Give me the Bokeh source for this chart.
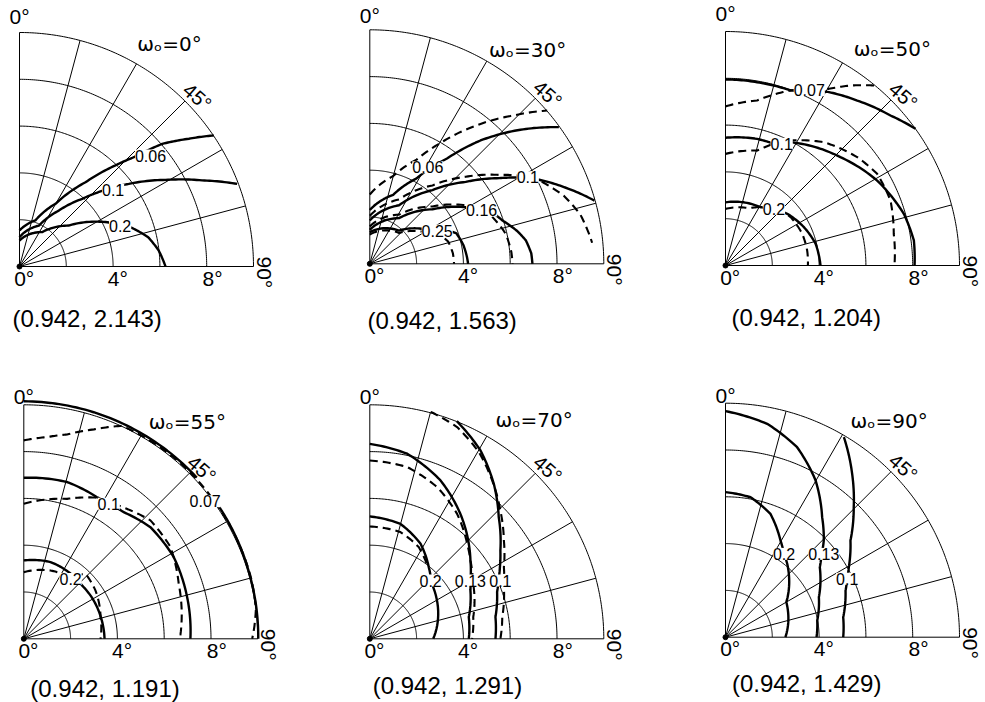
import numpy as np
from bokeh.plotting import figure
from bokeh.layouts import gridplot
from bokeh.models import Range1d
from bokeh.core.properties import value
from bokeh.embed import file_html
from bokeh.resources import INLINE

# ---------------- grid / axis values ----------------
RINGS = [2, 4, 6, 8, 10]
SPOKES = [0, 15, 30, 45, 60, 75, 90]
TICK_LABELS = ["0°", "4°", "8°"]
TICK_POS = [0.2, 4.2, 8.25]
OMEGA = [0, 30, 50, 55, 70, 90]
CAPTIONS = ["(0.942, 2.143)", "(0.942, 1.563)", "(0.942, 1.204)",
            "(0.942, 1.191)", "(0.942, 1.291)", "(0.942, 1.429)"]

# ---------------- curves (x, y in degrees) ----------------
# omega0 = 0
W0_006 = [(0, 1.54), (0.68, 1.97), (1.54, 2.68), (2.82, 3.6), (4.1, 4.32), (4.89, 4.67),
          (6.1, 5.24), (7.24, 5.46), (8.3, 5.6)]
W0_01 = [(0, 1.25), (0.83, 1.75), (1.68, 2.39), (2.68, 2.89), (3.6, 3.25), (4.67, 3.53),
         (6.24, 3.7), (7.8, 3.68), (9.3, 3.53)]
W0_02 = [(0, 1.11), (0.97, 1.47), (2.1, 1.75), (3.67, 1.9), (4.8, 1.65), (5.5, 1.25),
         (5.95, 0.68), (6.24, 0)]
W0_LABELS = [("0.06", 5.6, 4.74), ("0.1", 4.0, 3.28), ("0.2", 4.3, 1.71)]

# omega0 = 30
W30_006D = [(0, 2.96), (1.0, 3.75), (2.0, 4.45), (3.0, 5.15), (4.44, 5.87), (6.15, 6.34), (7.58, 6.55)]
W30_006S = [(0, 2.3), (1.0, 2.95), (2.0, 3.65), (3.3, 4.5), (4.73, 5.27), (6.44, 5.73), (8.08, 5.84)]
W30_01S = [(0, 1.85), (1.25, 2.5), (2.68, 3.15), (4.1, 3.5), (5.53, 3.66), (6.6, 3.68),
           (7.24, 3.59), (8.38, 3.25), (9.6, 2.7)]
W30_01D = [(0, 2.05), (1.25, 2.75), (2.68, 3.35), (4.1, 3.72), (5.53, 3.8), (6.6, 3.75),
           (7.38, 3.49), (8.3, 2.9), (9.0, 2.1), (9.4, 1.2), (9.5, 0.9)]
W30_016S = [(0, 1.45), (1.25, 1.95), (2.68, 2.33), (4.1, 2.42), (5.0, 2.35), (5.67, 1.85),
            (6.3, 1.4), (6.67, 1.0), (6.9, 0.45), (6.95, 0)]
W30_016D = [(0, 1.6), (1.25, 2.1), (2.68, 2.45), (4.1, 2.5), (4.9, 2.3), (5.24, 2.0),
            (5.81, 1.28), (6.05, 0.5), (6.1, 0)]
W30_025S = [(0, 1.35), (1.25, 1.42), (2.2, 1.5), (3.1, 1.5), (3.7, 1.3), (4.0, 0.8), (4.15, 0.3), (4.2, 0)]
W30_025D = [(0, 1.25), (1.25, 1.32), (2.2, 1.38), (2.9, 1.3), (3.35, 0.95), (3.55, 0.45), (3.6, 0)]
W30_LABELS = [("0.06", 2.48, 4.13), ("0.1", 6.75, 3.7), ("0.16", 4.78, 2.28), ("0.25", 2.88, 1.42)]

# omega0 = 50
W50_007S = [(0, 7.95), (1.35, 7.83), (2.78, 7.48), (3.6, 7.48), (4.42, 7.41), (5.63, 7.05),
            (7.05, 6.41), (8.12, 5.84)]
W50_007D = [(0, 6.8), (1.35, 7.05), (2.78, 7.48), (3.6, 7.5), (4.42, 7.55), (5.34, 7.69), (6.41, 7.69)]
W50_01S = [(0, 5.46), (1.35, 5.41), (2.07, 5.2), (2.78, 5.27), (4.91, 4.63), (6.48, 3.63),
           (7.62, 2.21), (8.05, 1.07), (8.08, 0)]
W50_01D = [(0, 4.77), (1.35, 4.91), (2.07, 5.2), (2.78, 5.34), (4.2, 5.27), (5.63, 4.63),
           (6.48, 3.92), (7.05, 2.78), (7.19, 1.35), (7.22, 0)]
W50_02S = [(0, 2.7), (1.07, 2.64), (1.5, 2.49), (2.0, 2.4), (2.64, 2.21), (3.35, 1.64),
           (3.85, 0.93), (4.06, 0)]
W50_02D = [(0, 2.42), (1.0, 2.45), (1.5, 2.49), (2.2, 2.45), (2.78, 2.07), (3.28, 1.35),
           (3.49, 0.64), (3.52, 0)]
W50_LABELS = [("0.07", 3.58, 7.5), ("0.1", 2.4, 5.2), ("0.2", 2.07, 2.42)]

# omega0 = 55
W55_007S_A = [(0, 10.15), (2.62, 9.79), (5.06, 8.76), (7.39, 6.89)]
W55_007S_B = [(8.1, 6.0), (8.72, 5.03), (9.69, 2.6), (10.02, 0)]
W55_007D = [(0, 8.48), (1.0, 8.62), (1.85, 8.73), (3.0, 8.95), (4.2, 9.1), (5.76, 8.23),
            (7.11, 7.11), (8.23, 5.76), (9.11, 4.25), (9.71, 2.6), (9.92, 1.3), (9.85, 0.5), (9.76, 0)]
W55_01S = [(0, 6.88), (1.85, 6.7), (3.13, 6.05), (3.66, 5.77), (4.27, 5.41), (5.41, 4.77),
           (6.41, 3.49), (6.98, 1.78), (7.12, 0)]
W55_01D = [(0, 5.77), (1.85, 5.98), (3.13, 6.03), (4.2, 5.63), (5.41, 5.06), (6.27, 3.92),
           (6.62, 2.35), (6.67, 0)]
W55_02S = [(0, 3.35), (1.14, 3.28), (1.85, 2.9), (2.49, 2.28), (2.95, 1.7), (3.3, 0.9), (3.45, 0)]
W55_02D = [(0, 2.85), (1.14, 2.92), (1.7, 2.75), (2.2, 2.7), (2.64, 2.78), (3.06, 2.07),
           (3.28, 0.93), (3.28, 0)]
W55_LABELS = [("0.07", 7.75, 5.88), ("0.1", 3.63, 5.77), ("0.2", 2.0, 2.56)]

# omega0 = 70
W70_01S = [(3.72, 9.3), (4.73, 8.05), (5.3, 6.62), (5.51, 5.2), (5.58, 3.77), (5.56, 3.06),
           (5.5, 2.5), (5.44, 2.0), (5.37, 0.93), (5.37, 0)]
W70_01D = [(2.6, 9.7), (3.73, 9.05), (4.66, 7.98), (5.23, 6.77), (5.58, 5.48), (5.73, 4.2),
           (5.73, 3.06), (5.73, 2.21), (5.66, 0.93), (5.58, 0)]
W70_013S = [(0, 8.33), (1.6, 7.91), (3.02, 6.77), (3.87, 5.34), (4.23, 4.06), (4.3, 3.35),
            (4.3, 2.49), (4.3, 2.07), (4.23, 0.93), (4.23, 0)]
W70_013D = [(0, 7.62), (1.6, 7.34), (2.88, 6.48), (3.73, 5.34), (4.16, 4.06), (4.3, 3.35),
            (4.4, 2.5), (4.44, 2.21), (4.42, 0.93), (4.37, 0)]
W70_02S = [(0, 5.23), (1.31, 4.91), (2.17, 4.06), (2.52, 3.06), (2.62, 2.49), (2.71, 2.21), (2.71, 0)]
W70_02D = [(0, 4.8), (1.31, 4.56), (2.09, 3.92), (2.48, 3.06)]
W70_LABELS = [("0.2", 2.6, 2.49), ("0.13", 4.3, 2.49), ("0.1", 5.58, 2.49)]

# omega0 = 90
W90_013 = [(0, 9.66), (1.78, 9.12), (3.06, 8.12), (3.85, 6.7), (4.13, 5.13), (4.2, 4.13),
           (4.1, 3.5), (4.03, 2.99), (3.99, 1.71), (3.92, 0.71), (3.89, 0)]
W90_01 = [(5.06, 8.55), (5.41, 7.0), (5.48, 5.56), (5.34, 4.13), (5.27, 2.99), (5.2, 2.5),
          (5.13, 1.99), (5.03, 0.85), (5.03, 0)]
W90_02 = [(0, 6.2), (1.07, 5.98), (1.92, 5.27), (2.35, 4.13), (2.5, 3.56), (2.64, 3.13),
          (2.6, 1.5), (2.56, 0)]
W90_LABELS = [("0.2", 2.5, 3.56), ("0.13", 4.2, 3.56), ("0.1", 5.2, 2.5)]

PANEL_CURVES = [
    [("s", W0_006), ("s", W0_01), ("s", W0_02)],
    [("d", W30_006D), ("s", W30_006S), ("s", W30_01S), ("d", W30_01D), ("s", W30_016S),
     ("d", W30_016D), ("s", W30_025S), ("d", W30_025D)],
    [("s", W50_007S), ("d", W50_007D), ("s", W50_01S), ("d", W50_01D), ("s", W50_02S), ("d", W50_02D)],
    [("s", W55_007S_A), ("s", W55_007S_B), ("d", W55_007D), ("s", W55_01S), ("d", W55_01D),
     ("s", W55_02S), ("d", W55_02D)],
    [("s", W70_01S), ("d", W70_01D), ("s", W70_013S), ("d", W70_013D), ("s", W70_02S), ("d", W70_02D)],
    [("s", W90_013), ("s", W90_01), ("s", W90_02)],
]
PANEL_LABELS = [W0_LABELS, W30_LABELS, W50_LABELS, W55_LABELS, W70_LABELS, W90_LABELS]

# ---------------- layout (pixels, page coordinates) ----------------
S = 23.4
FIG_W = 328
ROW_H = [345, 357]
COL_LEFT = [0, 328, 656]
ROW_TOP = [0, 345]
ORIGIN_X = [19, 369.3, 725, 23.3, 369.3, 725]
ORIGIN_Y = [266, 263.3, 265, 638.3, 638.3, 636.7]
TITLE_POS = [(5.03, 9.52), (5.09, 9.12), (5.48, 9.26), (5.34, 9.26), (5.37, 9.33), (5.34, 9.26)]
CAPTION_POS = [(2.89, -2.22), (3.09, -2.42), (3.45, -2.21), (3.47, -2.12), (3.32, -1.98), (3.47, -1.98)]
TOP_ZERO_Y = [10.7, 10.6, 10.75, 10.35, 10.35, 10.35]

FONT = value("Liberation Sans")


def polar_path(pts, n=14):
    pts = np.asarray(pts, dtype=float)
    th = np.arctan2(pts[:, 0], pts[:, 1])
    r = np.hypot(pts[:, 0], pts[:, 1])
    ts, rs = [], []
    for i in range(len(pts) - 1):
        f = np.linspace(0, 1, n, endpoint=False)
        ts.append(th[i] + (th[i + 1] - th[i]) * f)
        rs.append(r[i] + (r[i + 1] - r[i]) * f)
    ts.append([th[-1]])
    rs.append([r[-1]])
    t = np.concatenate(ts)
    rr = np.concatenate(rs)
    return rr * np.sin(t), rr * np.cos(t)


figs = []
for k in range(6):
    row, col = divmod(k, 3)
    H = ROW_H[row]
    left, top = COL_LEFT[col], ROW_TOP[row]
    ox, oy = ORIGIN_X[k], ORIGIN_Y[k]
    p = figure(width=FIG_W, height=H,
               x_range=Range1d(-(ox - left) / S, (left + FIG_W - ox) / S),
               y_range=Range1d((oy - (top + H)) / S, (oy - top) / S),
               output_backend="svg", toolbar_location=None, min_border=0)
    p.axis.visible = False
    p.grid.visible = False
    p.outline_line_color = None
    p.background_fill_color = "white"
    p.border_fill_color = "white"

    # polar grid
    th = np.linspace(0, np.pi / 2, 150)
    for r in RINGS:
        p.line(r * np.sin(th), r * np.cos(th), line_color="black", line_width=1.0)
    for a in SPOKES:
        ar = np.deg2rad(a)
        p.line([0, 10 * np.sin(ar)], [0, 10 * np.cos(ar)], line_color="black", line_width=1.0)
    p.scatter([0], [0], size=5, color="black")

    # curves
    for style, pts in PANEL_CURVES[k]:
        xs, ys = polar_path(pts)
        if style == "s":
            p.line(xs, ys, line_color="black", line_width=2.4)
        else:
            p.line(xs, ys, line_color="black", line_width=2.1, line_dash="8 5")

    # curve labels
    labs = PANEL_LABELS[k]
    p.text(x=[l[1] for l in labs], y=[l[2] for l in labs], text=[l[0] for l in labs],
           text_font=FONT, text_font_size="16px", text_align="center",
           text_baseline="middle", text_color="black",
           background_fill_color="white")

    # tick labels
    p.text(x=TICK_POS, y=[-0.5] * 3, text=TICK_LABELS, text_font=FONT,
           text_font_size="21px", text_align="center", text_baseline="middle",
           text_color="black")
    p.text(x=[0.0], y=[TOP_ZERO_Y[k]], text=["0°"], text_font=FONT,
           text_font_size="21px", text_align="center", text_baseline="middle",
           text_color="black")
    p.text(x=[10.45], y=[-0.25], text=["90°"], text_font=FONT, angle=-np.pi / 2,
           text_font_size="21px", text_align="center", text_baseline="middle",
           text_color="black")
    p.text(x=[7.6], y=[7.25], text=["45°"], text_font=FONT, angle=-0.72,
           text_font_size="20px", text_align="center", text_baseline="middle",
           text_color="black")

    # title
    tx, ty = TITLE_POS[k]
    p.text(x=[tx], y=[ty], text=["ωₒ=%d°" % OMEGA[k]], text_font=value("DejaVu Sans"),
           text_font_size="20px", text_align="left", text_baseline="middle",
           text_color="black")

    # caption
    cx, cy = CAPTION_POS[k]
    p.text(x=[cx], y=[cy], text=[CAPTIONS[k]], text_font=FONT,
           text_font_size="24px", text_align="center", text_baseline="alphabetic",
           text_color="black")
    figs.append(p)

grid = gridplot([figs[:3], figs[3:]], toolbar_location=None)
open("out.html", "w").write(file_html(grid, INLINE))
